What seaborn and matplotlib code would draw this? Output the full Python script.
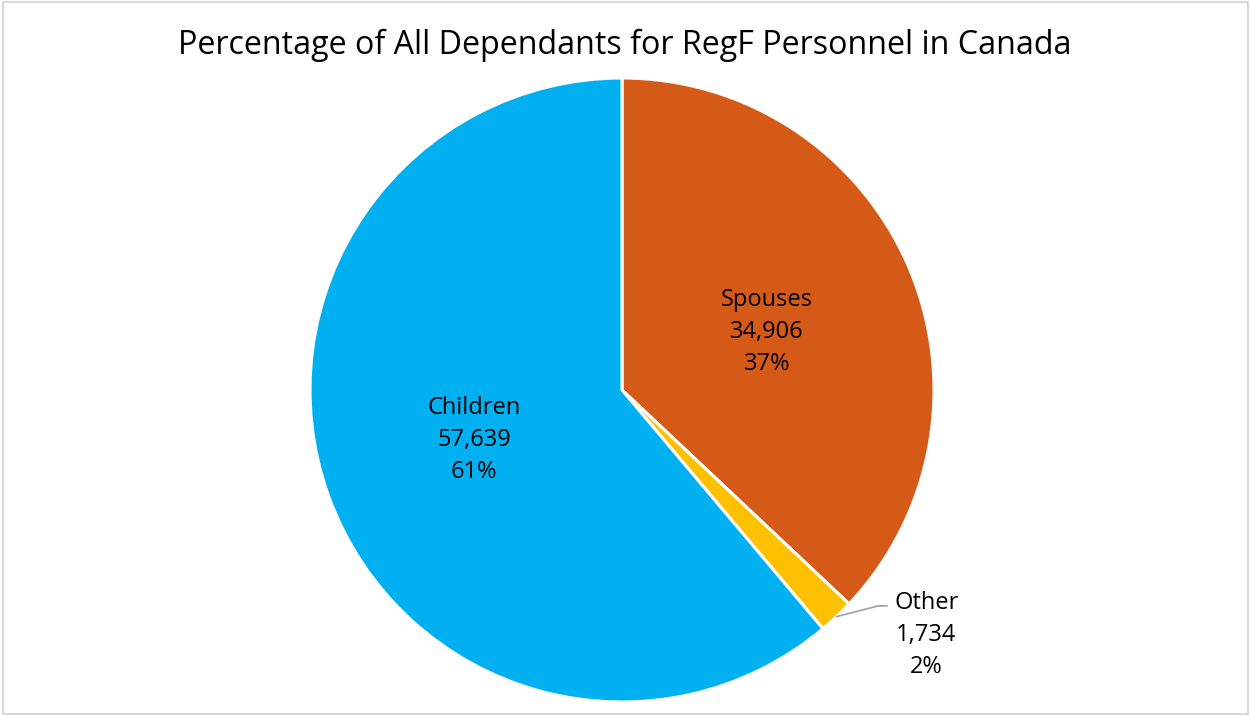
import numpy as np
import seaborn as sns
import matplotlib.pyplot as plt
from matplotlib.patches import Rectangle

# ---- data ----
categories = ["Spouses", "Other", "Children"]
counts = [34906, 1734, 57639]
colors = ["#D55A17", "#FFC000", "#00B0F0"]
title = "Percentage of All Dependants for RegF Personnel in Canada"

sns.set_theme(style="white")
plt.rcParams["font.family"] = ["Open Sans", "DejaVu Sans"]

fig = plt.figure(figsize=(12.5, 7.15), dpi=100)
fig.patch.set_facecolor("white")
fig.patches.append(Rectangle((0.002, 0.002), 0.996, 0.995, transform=fig.transFigure,
                             fill=False, edgecolor="#D9D9D9", linewidth=1.5))

ax = fig.add_axes([310 / 1250, 13 / 715, 624 / 1250, 624 / 715])
wedges, _ = ax.pie(counts, colors=colors, startangle=90, counterclock=False,
                   wedgeprops={"edgecolor": "white", "linewidth": 2.2})
ax.set_xlim(-1, 1)
ax.set_ylim(-1, 1)
ax.set_aspect("equal")

total = sum(counts)
pct = [c / total * 100 for c in counts]
labels = [f"{cat}\n{c:,}\n{p:.0f}%" for cat, c, p in zip(categories, counts, pct)]

txt_kw = dict(ha="center", va="center", fontsize=17, color="black", linespacing=1.45)
ax.text(0.465, 0.186, labels[0], **txt_kw)
ax.text(-0.474, -0.160, labels[2], **txt_kw)
ax.text(0.975, -0.785, labels[1], clip_on=False, **txt_kw)

# leader line for the small slice
w = wedges[1]
mid = np.deg2rad((w.theta1 + w.theta2) / 2)
x0, y0 = np.cos(mid), np.sin(mid)
ax.plot([x0, 0.821, 0.85], [y0, -0.692, -0.692], color="#A6A6A6", linewidth=1.3,
        clip_on=False)

fig.text(0.5, 0.936, title, ha="center", va="center", fontsize=23.2, color="black")

plt.savefig("out.png", dpi=100)
